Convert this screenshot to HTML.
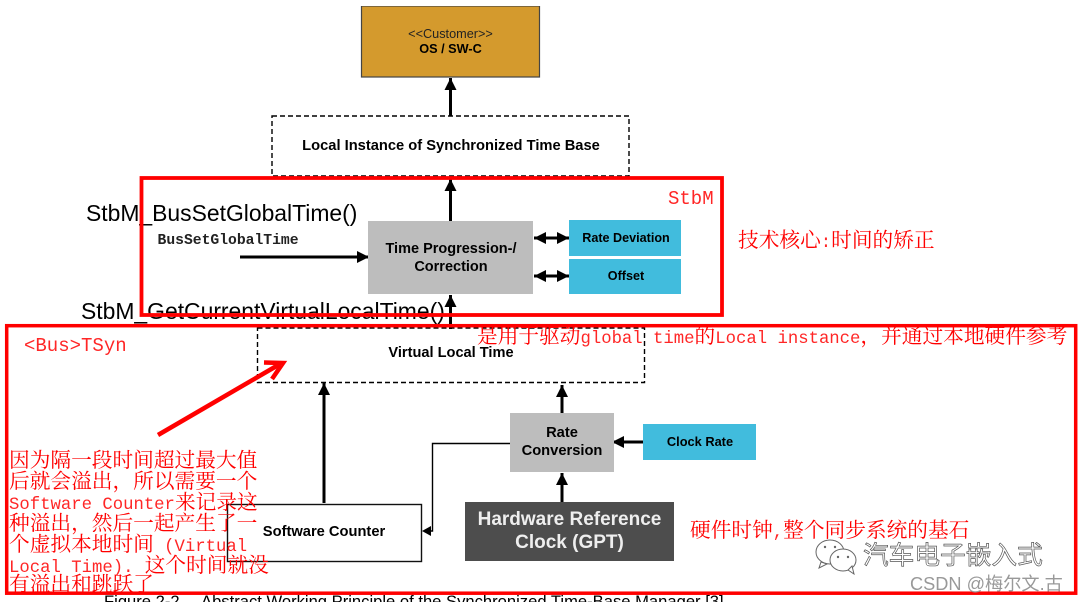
<!DOCTYPE html>
<html><head><meta charset="utf-8"><style>
html,body{margin:0;padding:0;background:#fff;width:1078px;height:602px;overflow:hidden}
svg{display:block}
.b{font-family:"Liberation Sans",sans-serif;font-weight:bold;fill:#000;text-anchor:middle}
.s{font-family:"Liberation Sans",sans-serif;fill:#000}
.r{font-family:"Liberation Mono","Noto Serif CJK SC",serif;fill:#f00;fill-opacity:.85}
.c{font-family:"Noto Serif CJK SC",serif;fill:#f00;font-size:20.7px}
.c tspan.l{font-family:"Liberation Mono",monospace;font-size:17.3px;fill-opacity:.85}
</style></head><body>
<svg width="1078" height="602" viewBox="0 0 1078 602" xmlns="http://www.w3.org/2000/svg">
<defs>
<marker id="a" markerUnits="userSpaceOnUse" markerWidth="14" markerHeight="14" refX="12" refY="7" orient="auto-start-reverse"><path d="M0,1L12,7L0,13z" fill="#000"/></marker>
<filter id="bl" x="0" y="0" width="100%" height="100%" color-interpolation-filters="sRGB"><feGaussianBlur stdDeviation="0.35"/></filter>
</defs>
<g filter="url(#bl)">
<rect x="361.500" y="6" width="178" height="71" fill="#d49a2d" stroke="#444" stroke-width="1.200"/>
<text x="450.500" y="38" text-anchor="middle" class="s" font-size="12.700" style="fill:#222">&lt;&lt;Customer&gt;&gt;</text>
<text x="450.500" y="53" class="b" font-size="12.700">OS / SW-C</text>
<rect x="272" y="116" width="357" height="60" fill="#fff" stroke="#000" stroke-width="1.400" stroke-dasharray="5 3"/>
<text x="451" y="150" class="b" font-size="14.700">Local Instance of Synchronized Time Base</text>
<g stroke="#000" stroke-width="3" fill="none" marker-end="url(#a)">
<path d="M450.500 116V78"/><path d="M450.500 221V179"/><path d="M450.500 329V295"/>
<path d="M240 257H369"/><path d="M324 503V383"/><path d="M562 413V385"/><path d="M562 502V473"/><path d="M643 442H612"/>
<path d="M534 238H569" marker-start="url(#a)"/><path d="M534 276H569" marker-start="url(#a)"/>
</g>
<rect x="368" y="221" width="165" height="73" fill="#bdbdbd"/>
<text x="451" y="253" class="b" font-size="14.500">Time Progression-/</text>
<text x="451" y="271" class="b" font-size="14.500">Correction</text>
<rect x="569" y="220" width="112" height="36" fill="#41bcdd"/>
<rect x="569" y="259" width="112" height="35" fill="#41bcdd"/>
<text x="626" y="242" class="b" font-size="12.600">Rate Deviation</text>
<text x="626" y="280" class="b" font-size="12.600">Offset</text>
<text x="86" y="221" class="s" font-size="22.900">StbM_BusSetGlobalTime()</text>
<text x="157.500" y="244" font-family="Liberation Mono,monospace" font-weight="bold" font-size="14.700" fill="#222">BusSetGlobalTime</text>
<text x="81" y="319" class="s" font-size="22.900">StbM_GetCurrentVirtualLocalTime()</text>
<rect x="257.500" y="328" width="387" height="54.500" fill="none" stroke="#000" stroke-width="1.400" stroke-dasharray="5 3"/>
<text x="451" y="357" class="b" font-size="14.600">Virtual Local Time</text>
<rect x="510" y="413" width="104" height="59" fill="#bdbdbd"/>
<text x="562" y="437" class="b" font-size="14.700">Rate</text>
<text x="562" y="455" class="b" font-size="14.700">Conversion</text>
<rect x="643" y="424" width="113" height="36" fill="#41bcdd"/>
<text x="700" y="446" class="b" font-size="12.800">Clock Rate</text>
<rect x="465" y="502" width="209" height="59" fill="#4d4d4d"/>
<text x="569.500" y="525" class="b" font-size="19" style="fill:#eee">Hardware Reference</text>
<text x="569.500" y="548" class="b" font-size="19" style="fill:#eee">Clock (GPT)</text>
<rect x="227.500" y="504.500" width="194" height="57" fill="#fff" stroke="#111" stroke-width="1.400"/>
<text x="324" y="536" class="b" font-size="14.700">Software Counter</text>
<path d="M510 443.500H432.500V531H424" fill="none" stroke="#000" stroke-width="1.400"/>
<path d="M422 531L431 526V536z" fill="#000"/>
<text x="104" y="607" class="s" font-size="16.600">Figure 2-2</text>
<text x="201" y="607" class="s" font-size="16.600">Abstract Working Principle of the Synchronized Time-Base Manager [3]</text>
</g>
<!-- red frames -->
<rect x="141.500" y="178" width="580.500" height="137" fill="none" stroke="#f00" stroke-width="3.800"/>
<rect x="6.700" y="325.700" width="1069" height="267.500" fill="none" stroke="#f00" stroke-width="3.500"/>
<text x="668" y="204" class="r" font-size="19">StbM</text>
<text x="24" y="351" class="r" font-size="19">&lt;Bus&gt;TSyn</text>
<text x="738" y="247" class="c">技术核心<tspan class="l">:</tspan>时间的矫正</text>
<text x="477" y="343" class="c">是用于驱动<tspan class="l">global time</tspan>的<tspan class="l">Local instance</tspan>，并通过本地硬件参考</text>
<text x="690" y="537" class="c">硬件时钟<tspan class="l">,</tspan>整个同步系统的基石</text>
<path d="M158 435L280 364" stroke="#f00" stroke-width="4.500" fill="none"/>
<path d="M264 362.500L283 363L272 379" stroke="#f00" stroke-width="4.500" fill="none"/>
<text class="c" xml:space="preserve"><tspan x="9" y="467">因为隔一段时间超过最大值</tspan><tspan x="9" y="488">后就会溢出，所以需要一个</tspan><tspan x="9" y="509" class="l">Software Counter</tspan><tspan>来记录这</tspan><tspan x="9" y="530">种溢出，然后一起产生了一</tspan><tspan x="9" y="551">个虚拟本地时间 </tspan><tspan class="l" dx="5">(Virtual</tspan><tspan x="9" y="572" class="l">Local Time).</tspan><tspan dx="6"> 这个时间就没</tspan><tspan x="9" y="591">有溢出和跳跃了</tspan></text>
<!-- watermark -->
<g fill="#fff" stroke="#666" stroke-width="1">
<ellipse cx="830" cy="552" rx="14" ry="12"/>
<path d="M821 562L819 568L827 564z"/>
<ellipse cx="843" cy="560" rx="13" ry="11"/>
<path d="M848 570L854 574L852 566z"/>
</g>
<g fill="#666"><circle cx="825" cy="547" r="1.200"/><circle cx="835" cy="547" r="1.200"/><circle cx="838" cy="557" r="1.200"/><circle cx="848" cy="557" r="1.200"/></g>
<text x="863" y="564" font-family="Noto Sans CJK SC,sans-serif" font-size="25.700" fill="#fff" stroke="#555" stroke-width="0.700">汽车电子嵌入式</text>
<text x="910" y="590" font-family="Liberation Sans,Noto Sans CJK SC,sans-serif" font-size="18.200" fill="#999">CSDN @梅尔文.古</text>
</svg>
</body></html>
